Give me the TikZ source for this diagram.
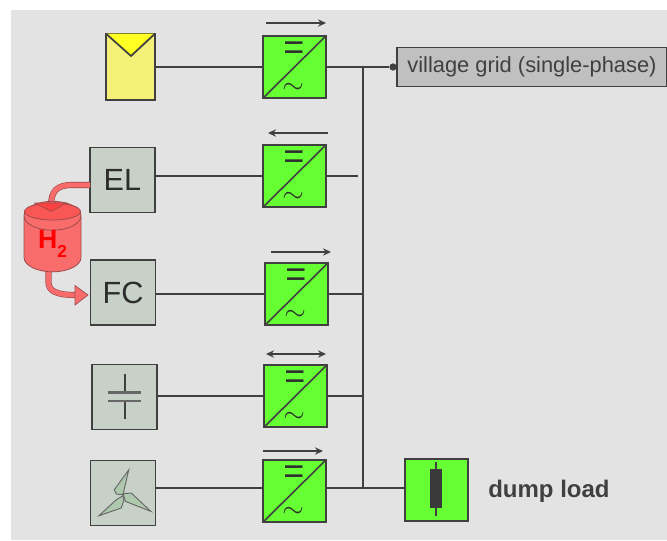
\documentclass[tikz,border=0pt]{standalone}
\usepackage{fontspec}
\setmainfont{Liberation Sans}
\usetikzlibrary{shapes.geometric,arrows.meta}
\definecolor{panelgrey}{HTML}{E3E3E3}
\definecolor{boxgrey}{HTML}{C8D1C8}
\definecolor{gridgrey}{HTML}{C0C0C0}
\definecolor{convgreen}{HTML}{66FF33}
\definecolor{pvyellow}{HTML}{F4F078}
\definecolor{pvflap}{HTML}{FFFF22}
\definecolor{linedark}{HTML}{404040}
\definecolor{tankred}{HTML}{F86C6C}
\definecolor{tankedge}{HTML}{A04A4A}
\definecolor{bladegreen}{HTML}{AEC8AE}
\tikzset{
  box/.style={draw=linedark, line width=1pt, inner sep=0pt, outer sep=0pt},
  sourcebox/.style={box, fill=boxgrey, text=linedark!70!black, minimum width=48.75pt, minimum height=48.75pt, font=\fontsize{23}{23}\selectfont},
  convbox/.style={box, line width=1.5pt, fill=convgreen, minimum width=47pt, minimum height=46.5pt},
  wire/.style={linedark, line width=1.4pt},
  flow/.style={linedark, line width=1.1pt},
  pipe/.style={draw=tankedge, double=tankred, double distance=3.6pt, line width=.5pt},
  pipehead/.style={draw=tankedge, fill=tankred, line width=.5pt}
}
\begin{document}
\begin{tikzpicture}[x=0.75pt,y=-0.75pt,>={Stealth[length=6pt,width=5.5pt]}]
    % page size and grey panel
    \useasboundingbox (0,0) rectangle (667,540);
    \fill[panelgrey] (11,10) rectangle (667,540);

    % sources on the left
    \node[box, line width=1.3pt, fill=pvyellow, minimum width=36.75pt, minimum height=50pt] (pvpanel) at (130.5,67) {};
    \node[sourcebox] (elbox) at (122.5,180) {EL};
    \node[sourcebox] (fcbox) at (123,292.5) {FC};
    \node[sourcebox] (batbox) at (124.5,397) {};
    \node[sourcebox] (windbox) at (123,493) {};

    % converters, each with its flow arrow above
    \foreach \name/\xc/\yc/\tips/\xa/\xb/\ya in {conva/294.5/67/->/266/326/23, convb/294.5/176/<-/268/328/133, convc/296.5/294/->/271/331/252, convd/295.5/396/<->/266/326/354, conve/294.5/491/->/263/323/451} {
      \node[convbox] (\name) at (\xc,\yc) {};
      \draw[linedark, line width=1.2pt] (\name.south west) -- (\name.north east);
      \node[inner sep=0pt, text=linedark!70!black, font=\fontsize{27}{27}\selectfont] (\name dc) at ([xshift=-0.5pt,yshift=12pt]\name.center) {=};
      \node[inner sep=0pt, text=linedark!70!black, font=\fontsize{21}{21}\selectfont] (\name ac) at ([xshift=-1pt,yshift=-16pt]\name.center) {$\sim$};
      \draw[flow, \tips] (\xa,\ya) -- (\xb,\ya);
    }

    % grid, bus and dump load
    \node[box, line width=1.2pt, fill=gridgrey, minimum width=202.5pt, minimum height=29pt, anchor=west, text=linedark, font=\fontsize{16.4}{16.4}\selectfont] (gridbox) at (397,67) {village grid (single-phase)};
    \node[box, line width=1.3pt, fill=convgreen, minimum width=47pt, minimum height=46.5pt] (dumpbox) at (436.5,490) {};
    \node[anchor=west, inner sep=0pt, text=linedark, font=\fontsize{18}{18}\selectfont\bfseries] (dumplabel) at (488,491) {dump load};
    \coordinate (bustop) at (363,67);
    \coordinate (busbot) at (363,488);
    \node[circle, fill=linedark, inner sep=0pt, minimum size=5.5pt] (griddot) at (393,67) {};
    \draw[wire] (bustop) -- (busbot);

    % wires from sources to converters
    \foreach \src/\conv in {pvpanel/conva, elbox/convb, fcbox/convc, batbox/convd}
      \draw[wire] (\src.east |- \conv.west) -- (\conv.west);
    \draw[wire] (windbox.east |- busbot) -- (conve.west |- busbot);
    \draw[wire] (conva.east) -- (griddot);
    \draw[wire] (griddot) -- (gridbox.west);
    \draw[wire] (convb.east) -- ++(32,0);
    \draw[wire] (convc.east) -- (convc.east -| bustop);
    \draw[wire] (convd.east) -- (convd.east -| bustop);
    \draw[wire] (conve.east |- busbot) -- (dumpbox.west |- busbot);

    % solar panel flap
    \fill[pvflap] (pvpanel.north west) -- (131,56) -- (pvpanel.north east) -- cycle;
    \draw[linedark, line width=1.3pt] (pvpanel.north west) -- (131,56) -- (pvpanel.north east);

    % hydrogen tank and pipes
    \draw[pipe] ([yshift=-3.75pt]elbox.west) -- (72,185) .. controls (57,185) and (51,191) .. (51,206);
    \draw[pipe] (48.5,268) -- (48.5,282) .. controls (48.5,291) and (56,295) .. (76,295);
    \node[cylinder, shape border rotate=90, aspect=1.0, draw=tankedge, line width=.6pt, cylinder uses custom fill, cylinder body fill=tankred, cylinder end fill=tankred, minimum width=42.75pt, minimum height=51pt, inner sep=0pt, text=red, font=\fontsize{20}{20}\selectfont\bfseries] (tank) at (52.5,244) {H\raisebox{-.6ex}{\fontsize{13}{13}\selectfont 2}};
    \draw[tankedge, line width=.6pt, fill=tankred!80!red] (52.5,211.5) ellipse (28 and 8.5);
    \draw[pipehead, fill=tankred!60!red] (35,203) -- (66.5,203) -- (51,211.5) -- cycle;
    \draw[pipehead] (75,285.5) -- (88,295) -- (75,305) -- cycle;

    % capacitor symbol
    \draw[linedark, line width=1.1pt] (125,374) -- (125,392) (125,401) -- (125,419);
    \draw[linedark!80, line width=1.6pt] (108,392.5) -- (141,392.5) (108,401) -- (141,401);

    % wind turbine
    \foreach \blade in {{(128.7,470)--(114.3,489.7)--(116.3,494)--(123,494.7)--cycle}, {(123,493.7)--(131.3,493)--(150.7,511.3)--(125.3,501.3)--cycle}, {(123,495.7)--(116.3,499.7)--(99,515.7)--(121.3,508)--(124,499.7)--cycle}}
      \draw[linedark!80, line width=.7pt, fill=bladegreen] \blade;

    % resistor symbol of the dump load
    \draw[linedark, line width=1.9pt] (436,462) -- (436,516);
    \fill[linedark!90!black] (430,469) rectangle (442,508);
\end{tikzpicture}
\end{document}
